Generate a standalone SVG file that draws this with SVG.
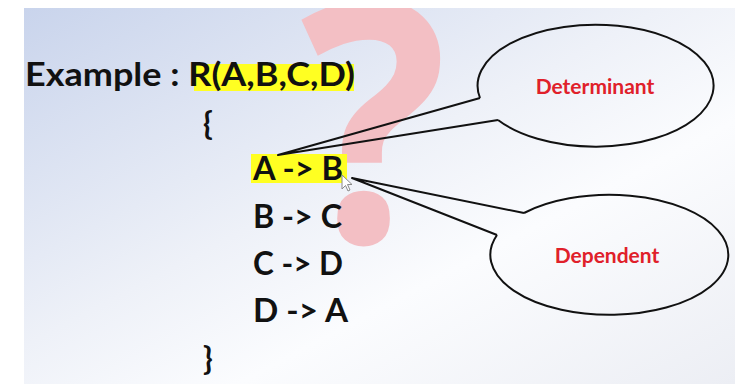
<svg xmlns="http://www.w3.org/2000/svg" width="740" height="385" viewBox="0 0 740 385">
  <defs>
    <linearGradient id="slideBg" x1="0" y1="0" x2="1" y2="1">
      <stop offset="0" stop-color="#c9d4ec"/>
      <stop offset="0.45" stop-color="#eef1f8"/>
      <stop offset="0.65" stop-color="#fbfcfe"/>
      <stop offset="1" stop-color="#eceef4"/>
    </linearGradient>
    <clipPath id="slideClip">
      <rect x="24" y="8" width="711" height="376"/>
    </clipPath>
    <style>
      .code { font-family: Lato, "Open Sans", "Liberation Sans", sans-serif; font-weight: 700; font-size: 32px; fill: #111111; }
      .label { font-family: Lato, "Open Sans", "Liberation Sans", sans-serif; font-weight: 700; font-size: 21px; fill: #e0202a; text-anchor: middle; }
      .mark { fill: #ffff22; }
      .outline { fill: none; stroke: #111111; stroke-width: 2; stroke-linejoin: round; }
    </style>
  </defs>

  <!-- page and slide background -->
  <rect width="740" height="385" fill="#ffffff"/>
  <rect x="24" y="8" width="711" height="376" fill="url(#slideBg)"/>

  <!-- faded question mark behind the content -->
  <g clip-path="url(#slideClip)">
    <text x="0" y="0" transform="translate(374 242) scale(0.92 1)" font-family="'Open Sans', 'Noto Sans', sans-serif" font-weight="700" font-size="335" fill="#f3bfc4" text-anchor="middle">?</text>
  </g>

  <!-- relation heading -->
  <g id="title">
    <rect class="mark" x="194" y="64" width="160" height="27"/>
    <text class="code" x="25" y="86" textLength="330" lengthAdjust="spacingAndGlyphs">Example : R(A,B,C,D)</text>
  </g>

  <g id="brace-open">
    <text class="code" x="203" y="135">{</text>
  </g>

  <!-- functional dependencies -->
  <g id="fd-ab">
    <rect class="mark" x="251" y="154" width="96" height="29"/>
    <text class="code" x="253" y="180" textLength="90" lengthAdjust="spacingAndGlyphs">A -&gt; B</text>
  </g>
  <g id="fd-bc">
    <text class="code" x="253" y="228" textLength="89" lengthAdjust="spacingAndGlyphs">B -&gt; C</text>
  </g>
  <g id="fd-cd">
    <text class="code" x="253" y="275" textLength="90" lengthAdjust="spacingAndGlyphs">C -&gt; D</text>
  </g>
  <g id="fd-da">
    <text class="code" x="253" y="322" textLength="95" lengthAdjust="spacingAndGlyphs">D -&gt; A</text>
  </g>

  <g id="brace-close">
    <text class="code" x="203" y="370">}</text>
  </g>

  <!-- pointer cursor -->
  <g id="cursor">
    <path d="M342 175 L342 189 L345.5 185.5 L348 191 L350 190 L347.5 184.5 L352 184.5 Z" fill="#ffffff" stroke="#8a8a8a" stroke-width="1" stroke-linejoin="round"/>
  </g>

  <!-- callout bubbles -->
  <g id="callout-determinant">
    <path class="outline" d="M480 98 A118 61 0 1 1 498 120"/>
    <text class="label" x="595" y="94">Determinant</text>
  </g>
  <g id="callout-dependent">
    <path class="outline" d="M524 213 A119 60 0 1 1 497 235"/>
    <text class="label" x="607" y="263">Dependent</text>
  </g>

  <!-- callout tails -->
  <g id="connectors">
    <polyline class="outline" points="498,120 278,155 480,98"/>
    <polyline class="outline" points="497,235 352,178 524,213"/>
  </g>
</svg>
